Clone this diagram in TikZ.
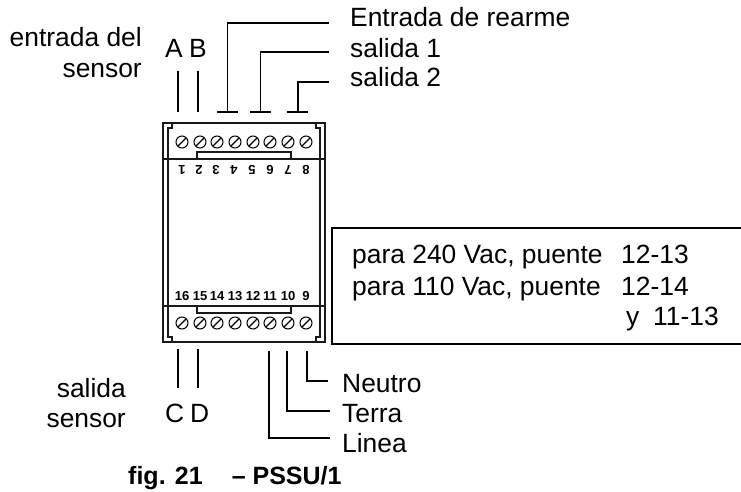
\documentclass[tikz,border=0pt]{standalone}
\usepackage{fontspec}
\setmainfont{Liberation Sans}
\tikzset{
 lbl/.style={inner sep=0pt,font=\fontsize{26.4}{31}\selectfont,anchor=base west},
 lblr/.style={inner sep=0pt,font=\fontsize{26.4}{31}\selectfont,anchor=base east},
 num/.style={inner sep=0pt,font=\fontsize{13}{15}\selectfont\bfseries},
 wire/.style={line width=1.1pt},
 dev/.style={line width=1.15pt,black!90},
}
\newcommand{\scw}[2]{\draw[line width=1pt] (#1,#2) circle (6);\draw[line width=1.1pt] (#1-4,#2+4)--(#1+4,#2-4);}
\begin{document}
\begin{tikzpicture}[x=1pt,y=-1pt]
\useasboundingbox (0,0) rectangle (741,492);
% device
\draw[dev] (163,342) -- (163,123) -- (325,123) -- (325,342) -- cycle;
\draw[dev] (172,123)--(172,128)--(168,128)--(168,337)--(172,337)--(172,342);
\draw[dev] (316,123)--(316,128)--(320,128)--(320,337)--(316,337)--(316,342);
\draw[dev] (163,159)--(325,159) (163,306)--(325,306);
\draw[dev] (197,159)--(197,152)--(291,152)--(291,159);
\draw[dev] (197,306)--(197,313)--(291,313)--(291,306);
\foreach \x in {182,200,217,235,253,270,288,306}{\scw{\x}{142}\scw{\x}{323}}
\foreach \x/\t in {182/1,199/2,216/3,234/4,252/5,270/6,288/7,306/8}{\node[num,rotate=180] (t\t) at (\x,170) {\t};}
\foreach \x/\t in {182/16,200/15,217/14,235/13,253/12,270/11,288/10,306/9}{\node[num] (b\t) at (\x,296) {\t};}
% top wires
\coordinate (ax) at (178,71);\coordinate (ay) at (178,112);
\coordinate (bx) at (198,71);\coordinate (by) at (198,112);
\draw[wire] (ax)--(ay) (bx)--(by);
\node[lbl] (A) at (165,58) {A};
\node[lbl] (B) at (189,58) {B};
\node[lblr] (es1) at (142,47) {entrada del};
\node[lblr] (es2) at (142,78) {sensor};
\node[lbl] (rearme) at (350,27) {Entrada de rearme};
\node[lbl] (s1) at (350,58) {salida 1};
\node[lbl] (s2) at (350,87) {salida 2};
\coordinate (r0) at (329,23);\coordinate (r1) at (227.5,23);\coordinate (r2) at (227.5,112);
\coordinate (p0) at (329,52);\coordinate (p1) at (260.5,52);\coordinate (p2) at (260.5,112);
\coordinate (q0) at (329,82);\coordinate (q1) at (298,82);\coordinate (q2) at (298,112);
\draw[wire] (r0)--(r1)--(r2) (217,112)--(238,112);
\draw[wire] (p0)--(p1)--(p2) (250,112)--(271,112);
\draw[wire] (q0)--(q1)--(q2) (287,112)--(308,112);
% bottom wires
\coordinate (c0) at (178,349);\coordinate (c1) at (178,388);
\coordinate (d0) at (198,349);\coordinate (d1) at (198,388);
\draw[wire] (c0)--(c1) (d0)--(d1);
\node[lbl] (C) at (165,422) {C};
\node[lbl] (D) at (190,422) {D};
\node[lblr] (ss1) at (126,397) {salida};
\node[lblr] (ss2) at (126,427) {sensor};
\coordinate (n0) at (307,351);\coordinate (n1) at (307,381);\coordinate (n2) at (328,381);
\coordinate (t0) at (287,351);\coordinate (t1) at (287,411);\coordinate (t2) at (330,411);
\coordinate (l0) at (269,351);\coordinate (l1) at (269,438);\coordinate (l2) at (330,438);
\draw[wire] (n0)--(n1)--(n2) (t0)--(t1)--(t2) (l0)--(l1)--(l2);
\node[lbl] (neu) at (342,392) {Neutro};
\node[lbl] (ter) at (342,422) {Terra};
\node[lbl] (lin) at (342,452) {Linea};
% note
\draw[line width=1.2pt] (741,228) -- (332,228) -- (332,344) -- (741,344);
\node[lbl] (n1t) at (352,263) {para 240 Vac, puente};
\node[lbl] (n2t) at (352,295) {para 110 Vac, puente};
\node[lbl] (n1n) at (621,263) {12-13};
\node[lbl] (n2n) at (621,295) {12-14};
\node[lbl] (n3y) at (626,325) {y};
\node[lbl] (n3n) at (653,325) {11-13};
\node[inner sep=0pt,anchor=base west,font=\fontsize{25}{30}\selectfont\bfseries] (cap) at (128,484) {fig. 21\hspace*{29pt}– PSSU/1};
\end{tikzpicture}
\end{document}
